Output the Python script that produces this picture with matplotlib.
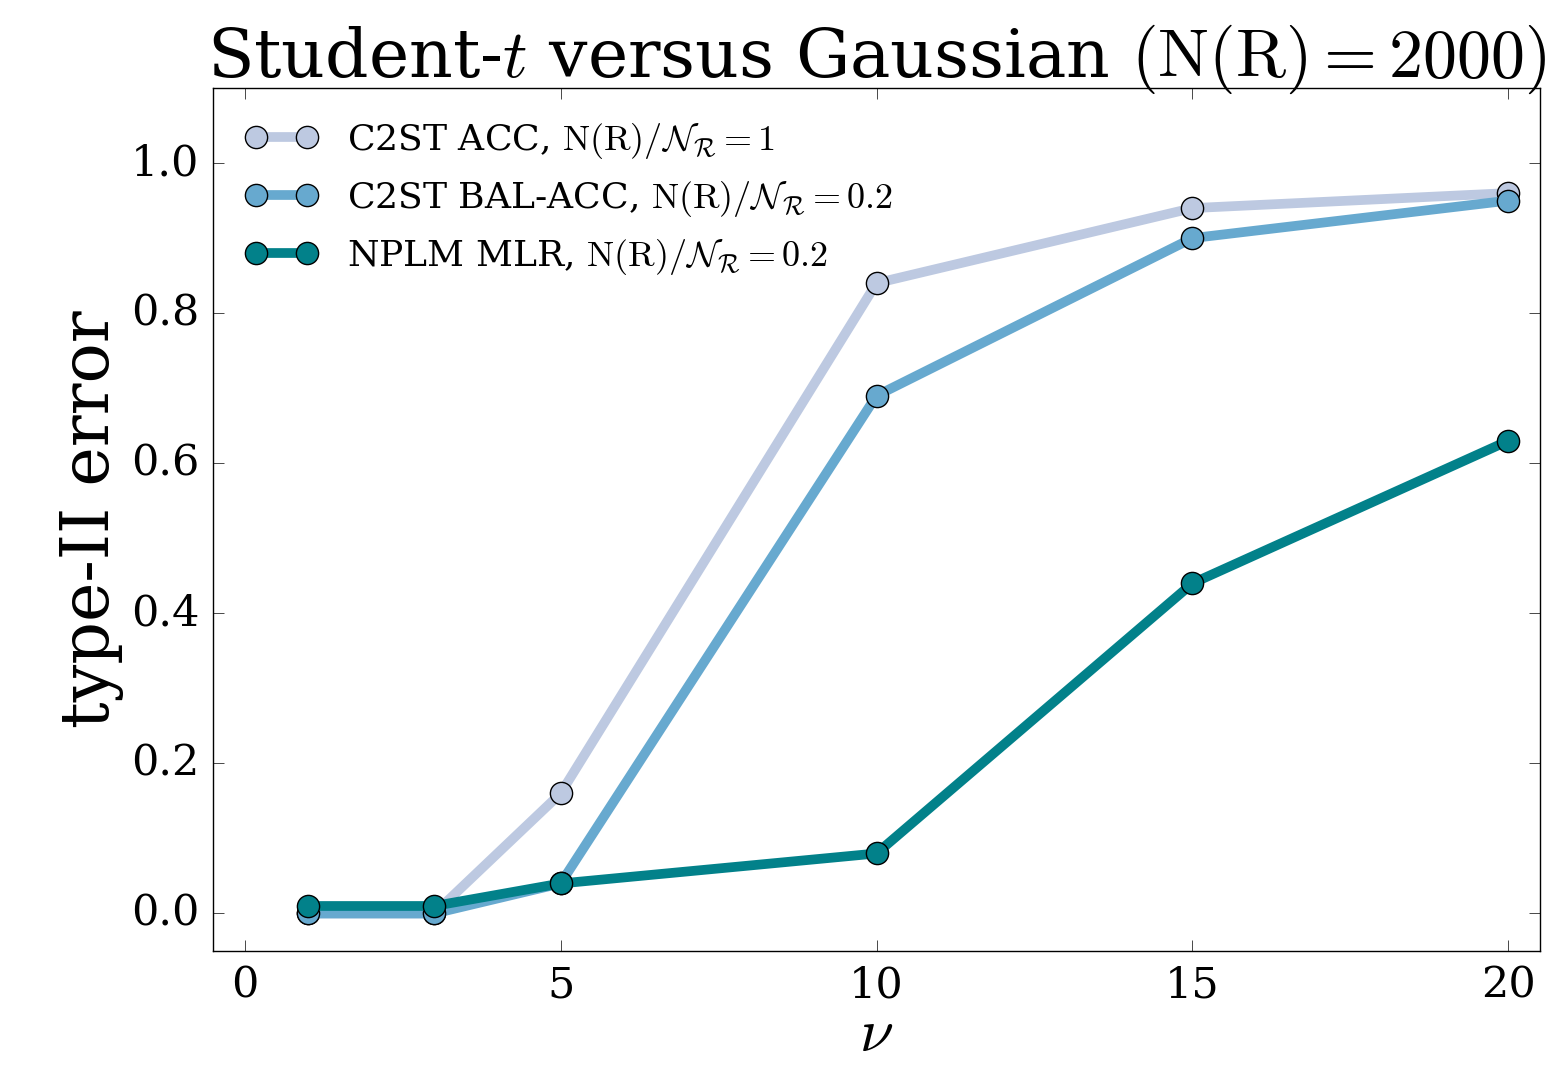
import matplotlib
matplotlib.use("Agg")
import matplotlib.pyplot as plt

plt.style.use("classic")
plt.rcParams["font.family"] = "DejaVu Serif"
plt.rcParams["mathtext.fontset"] = "cm"

# data
nu = [1, 3, 5, 10, 15, 20]
c2st_acc = [0.0, 0.0, 0.16, 0.84, 0.94, 0.96]
c2st_bal = [0.0, 0.0, 0.04, 0.69, 0.90, 0.95]
nplm_mlr = [0.01, 0.01, 0.04, 0.08, 0.44, 0.63]

labels = [
    r"C2ST ACC, $\mathrm{N(R)}/\mathcal{N}_{\mathcal{R}}=1$",
    r"C2ST BAL-ACC, $\mathrm{N(R)}/\mathcal{N}_{\mathcal{R}}=0.2$",
    r"NPLM MLR, $\mathrm{N(R)}/\mathcal{N}_{\mathcal{R}}=0.2$",
]
colors = ["#bdc9e1", "#67a9cf", "#02818a"]

fig = plt.figure(figsize=(15.62, 10.67), dpi=100, facecolor="white")
ax = fig.add_axes([0.1364, 0.1087, 0.8495, 0.8088])

for ys, lab, c in zip([c2st_acc, c2st_bal, nplm_mlr], labels, colors):
    ax.plot(nu, ys, "-o", color=c, lw=7, markersize=16, markeredgecolor="black",
            markeredgewidth=1, label=lab)

ax.set_xlim(-0.5, 20.5)
ax.set_ylim(-0.05, 1.1)
ax.set_xticks([0, 5, 10, 15, 20])
ax.set_yticks([0.0, 0.2, 0.4, 0.6, 0.8, 1.0])
ax.tick_params(labelsize=31, length=8, pad=10)

ax.set_title(r"Student-$t$ versus Gaussian $(\mathrm{N(R)}=2000)$", fontsize=49, y=1.005)
ax.set_ylabel("type-II error", fontsize=48)
ax.set_xlabel(r"$\nu$", fontsize=44, labelpad=-2)

ax.legend(loc="upper left", frameon=False, fontsize=26, numpoints=2)

fig.savefig("out.png", dpi=100, facecolor="white")
